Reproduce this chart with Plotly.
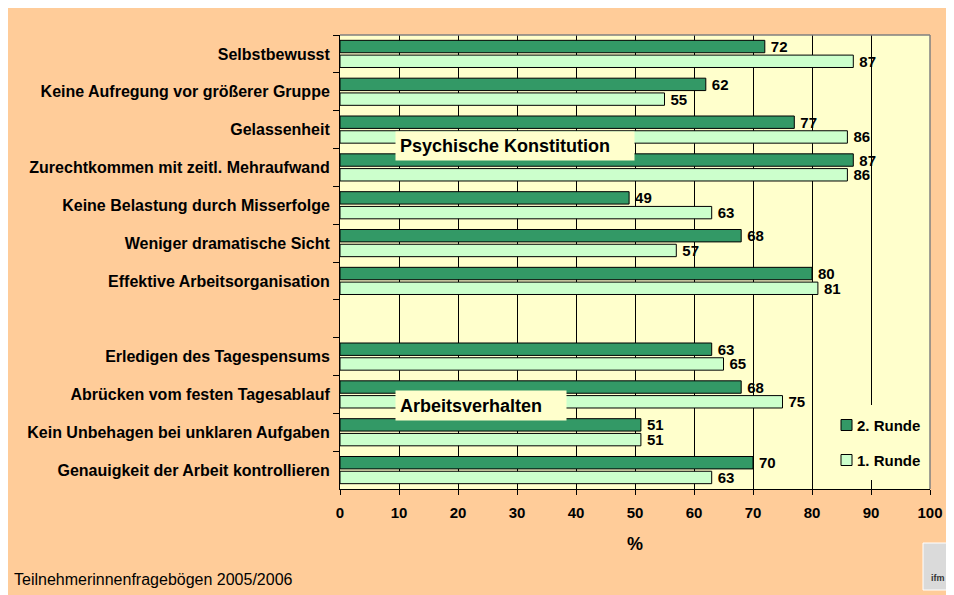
import plotly.graph_objects as go

categories = [
    "Selbstbewusst",
    "Keine Aufregung vor größerer Gruppe",
    "Gelassenheit",
    "Zurechtkommen mit zeitl. Mehraufwand",
    "Keine Belastung durch Misserfolge",
    "Weniger dramatische Sicht",
    "Effektive Arbeitsorganisation",
    " ",
    "Erledigen des Tagespensums",
    "Abrücken vom festen Tagesablauf",
    "Kein Unbehagen bei unklaren Aufgaben",
    "Genauigkeit der Arbeit kontrollieren",
]
runde2 = [72, 62, 77, 87, 49, 68, 80, None, 63, 68, 51, 70]
runde1 = [87, 55, 86, 86, 63, 57, 81, None, 65, 75, 51, 63]
series_names = ["2. Runde", "1. Runde"]
series_colors = ["#339966", "#CCFFCC"]
x_ticks = [0, 10, 20, 30, 40, 50, 60, 70, 80, 90, 100]

FONT = "Liberation Sans, Arial, sans-serif"
W, H = 962, 603
OFF = 8  # page body margin offset (screen = figure + 8)
# plot area in screen pixels: left 340, right 930, top 35, bottom 489
ML, MR, MT, MB = 340 - OFF, W - (930 - OFF), 35 - OFF, H - (489 - OFF)
PW, PH = W - ML - MR, H - MT - MB


def px_x(s):
    return (s - OFF - ML) / PW


def px_y(s):
    return (H - MB - (s - OFF)) / PH


fig = go.Figure()
for name, vals, col in zip(series_names, [runde2, runde1], series_colors):
    fig.add_trace(go.Bar(
        y=categories, x=vals, orientation="h", name=name,
        marker=dict(color=col, line=dict(color="black", width=1)),
        text=["\u2009" + str(v) if v is not None else "" for v in vals],
        textposition="outside", constraintext="none", cliponaxis=False,
        textfont=dict(family=FONT, size=15, color="black", weight="bold"),
        showlegend=False,
    ))

shapes = [
    # gray plot border (top, right)
    dict(type="line", xref="paper", yref="paper", x0=0, x1=1, y0=1, y1=1,
         line=dict(color="#808080", width=1.5)),
    dict(type="line", xref="paper", yref="paper", x0=1, x1=1, y0=0, y1=1,
         line=dict(color="#808080", width=1.5)),
    # legend background (covers the 90 gridline)
    dict(type="rect", xref="paper", yref="paper", x0=px_x(834), x1=px_x(928),
         y0=px_y(480), y1=px_y(405), fillcolor="#FFFFCC", line=dict(width=0),
         layer="above"),
    # logo placeholder
    dict(type="rect", xref="paper", yref="paper", x0=px_x(923), x1=px_x(952),
         y0=px_y(590), y1=px_y(543), fillcolor="#DADADA",
         line=dict(color="white", width=1)),
]

annotations = []
for i, (name, col) in enumerate(zip(series_names, series_colors)):
    yc = 425 + 35 * i
    shapes.append(dict(type="rect", xref="paper", yref="paper",
                       x0=px_x(841), x1=px_x(852), y0=px_y(yc + 5.5), y1=px_y(yc - 5.5),
                       fillcolor=col, line=dict(color="black", width=1), layer="above"))
    annotations.append(dict(text=f"<b>{name}</b>", xref="paper", yref="paper",
                            x=px_x(855), y=px_y(yc), xanchor="left", yanchor="middle",
                            showarrow=False,
                            font=dict(family=FONT, size=15, color="black")))

annotations += [
    dict(text="<b>Psychische Konstitution</b>", xref="paper", yref="paper",
         x=px_x(395), y=px_y(131), xanchor="left", yanchor="top",
         showarrow=False, align="left", width=230, height=20, borderpad=4,
         bgcolor="#FFFFCC", font=dict(family=FONT, size=18, color="black")),
    dict(text="<b>Arbeitsverhalten</b>", xref="paper", yref="paper",
         x=px_x(395), y=px_y(390), xanchor="left", yanchor="top",
         showarrow=False, align="left", width=162, height=21, borderpad=4,
         bgcolor="#FFFFCC", font=dict(family=FONT, size=18, color="black")),
    dict(text="Teilnehmerinnenfragebögen 2005/2006", xref="paper", yref="paper",
         x=px_x(12), y=px_y(579), xanchor="left", yanchor="middle",
         showarrow=False, font=dict(family=FONT, size=16, color="black")),
    dict(text="<b>ifm</b>", xref="paper", yref="paper",
         x=px_x(938), y=px_y(578), xanchor="center", yanchor="middle",
         showarrow=False, font=dict(family=FONT, size=9, color="#333333")),
]

fig.update_layout(
    width=W, height=H,
    margin=dict(l=ML, r=MR, t=MT, b=MB, pad=0),
    paper_bgcolor="#FFCC99",
    plot_bgcolor="#FFFFCC",
    barmode="group", bargap=0.22, bargroupgap=0.16,
    font=dict(family=FONT, color="black"),
    showlegend=False,
    xaxis=dict(
        range=[0, 100], tickvals=x_ticks, ticktext=[str(v) for v in x_ticks],
        showgrid=True, gridcolor="black", gridwidth=1, zeroline=False,
        showline=True, linecolor="black", linewidth=1,
        ticks="outside", ticklen=5, tickcolor="black", ticklabelstandoff=5,
        tickfont=dict(family=FONT, size=15, color="black", weight="bold"),
        title=dict(text="%", standoff=17,
                   font=dict(family=FONT, size=18, color="black", weight="bold")),
    ),
    yaxis=dict(
        autorange="reversed", type="category",
        showgrid=False, zeroline=False,
        showline=True, linecolor="black", linewidth=1,
        ticks="outside", ticklen=6, tickcolor="black", tickson="boundaries",
        ticklabelstandoff=6,
        tickfont=dict(family=FONT, size=16, color="black", weight="bold"),
    ),
    shapes=shapes,
    annotations=annotations,
)

fig.write_html("out.html")
